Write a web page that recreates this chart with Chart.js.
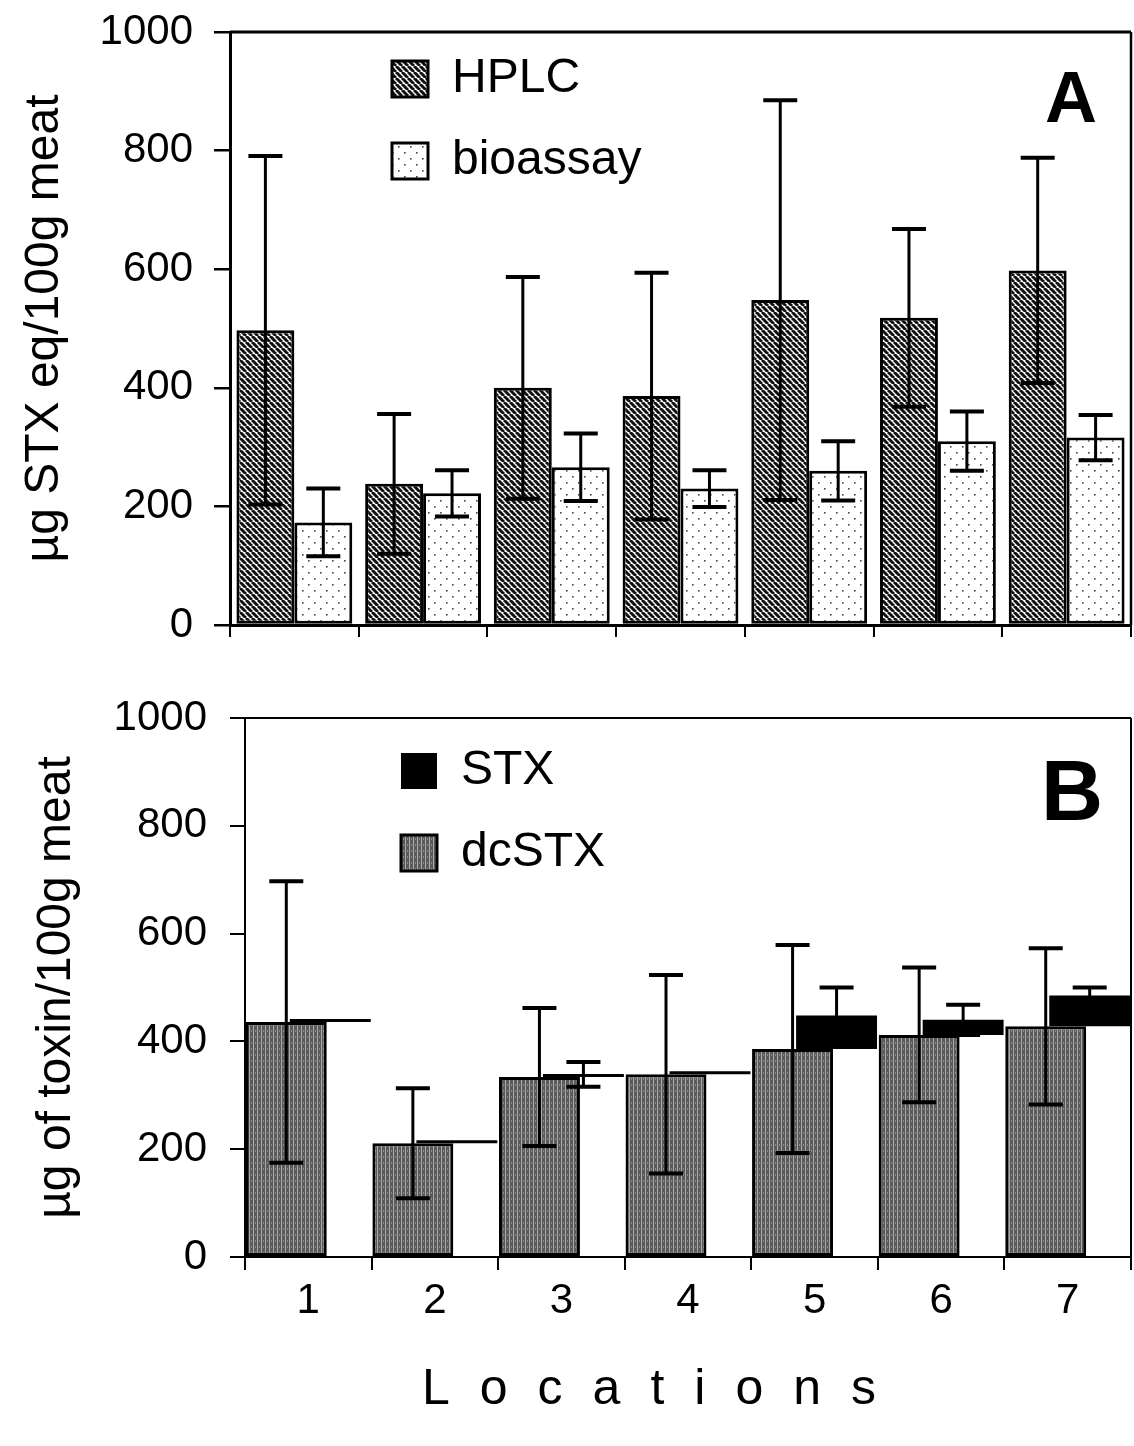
<!DOCTYPE html>
<html>
<head>
<meta charset="utf-8">
<script src="https://cdn.jsdelivr.net/npm/chart.js@4.4.1/dist/chart.umd.min.js"></script>
<style>
  html, body { margin: 0; padding: 0; background: #ffffff; }
  #wrap { position: relative; width: 1134px; height: 1446px; background: #fff; }
  #cA { position: absolute; left: 0; top: 0; }
  #cB { position: absolute; left: 0; top: 680px; }
</style>
</head>
<body>
<div id="wrap">
  <canvas id="cA" width="1134" height="660"></canvas>
  <canvas id="cB" width="1134" height="766"></canvas>
</div>
<script>
// ---------------- DATA ----------------
const locations = ['1', '2', '3', '4', '5', '6', '7'];

// Panel A
const hplc       = [497, 238, 400, 386, 548, 518, 598];
const hplcSD     = [294, 118, 187, 208, 337, 150, 190];
const bioassay   = [173, 222, 266, 230, 260, 310, 316];
const bioassaySD = [57, 39, 57, 31, 50, 50, 38];

// Panel B
const dcSTX   = [436, 211, 334, 339, 386, 412, 428];
const dcSTXSD = [261, 102, 128, 184, 193, 125, 145];
const stx     = [0, 0, 5, 0, 62, 28, 57];
const stxSD   = [0, 0, 23, 0, 52, 28, 15];

const yTickStep = 200;
const yMin = 0, yMax = 1000;

const labelsA = { hplc: 'HPLC', bio: 'bioassay', axis: 'µg STX eq/100g meat', panel: 'A' };
const labelsB = { stx: 'STX', dc: 'dcSTX', axis: 'µg of toxin/100g meat', panel: 'B', x: 'Locations' };

// ---------------- STYLE HELPERS ----------------
const FONT = "'Liberation Sans', Arial, Helvetica, sans-serif";

function makePattern(ctx, w, h, draw) {
  const c = document.createElement('canvas');
  c.width = w; c.height = h;
  const g = c.getContext('2d');
  draw(g, w, h);
  return ctx.createPattern(c, 'repeat');
}

const ctxA = document.getElementById('cA').getContext('2d');
const ctxB = document.getElementById('cB').getContext('2d');

const hatchA = makePattern(ctxA, 6, 6, (g, w, h) => {
  g.fillStyle = '#ffffff'; g.fillRect(0, 0, w, h);
  g.strokeStyle = '#111111'; g.lineWidth = 3;
  g.beginPath();
  for (let k = -1; k <= 1; k++) { g.moveTo(k * w, 0); g.lineTo(k * w + w, h); }
  g.stroke();
});
const dotsA = makePattern(ctxA, 12, 12, (g, w, h) => {
  g.fillStyle = '#ffffff'; g.fillRect(0, 0, w, h);
  g.fillStyle = '#444444';
  g.fillRect(2, 2, 1.6, 1.6);
  g.fillRect(8, 8, 1.6, 1.6);
});
const grayB = makePattern(ctxB, 4, 6, (g, w, h) => {
  g.fillStyle = '#5a5a5a'; g.fillRect(0, 0, w, h);
  g.fillStyle = '#a9a9a9'; g.fillRect(1, 0, 1, h);
  g.fillStyle = '#8a8a8a'; g.fillRect(3, 2, 1, 2);
});

const plainNumber = (v) => String(v);

// ---------------- PLUGINS ----------------
const errorBars = {
  id: 'errorBars',
  afterDatasetsDraw(chart, args, o) {
    const ctx = chart.ctx, ys = chart.scales.y;
    chart.data.datasets.forEach((ds, di) => {
      if (!ds.errors) return;
      const meta = chart.getDatasetMeta(di);
      if (meta.hidden) return;
      meta.data.forEach((bar, i) => {
        const e = ds.errors[i];
        if (!e) return;
        const raw = ds.data[i];
        const c = Array.isArray(raw) ? raw[1] : raw;
        const yHi = ys.getPixelForValue(c + e), yLo = ys.getPixelForValue(c - e);
        const half = o.capLength / 2;
        ctx.save();
        ctx.strokeStyle = '#000';
        ctx.lineWidth = o.lineWidth;
        ctx.beginPath(); ctx.moveTo(bar.x, yHi); ctx.lineTo(bar.x, yLo); ctx.stroke();
        ctx.lineWidth = o.capWidth;
        ctx.beginPath();
        ctx.moveTo(bar.x - half, yHi); ctx.lineTo(bar.x + half, yHi);
        ctx.moveTo(bar.x - half, yLo); ctx.lineTo(bar.x + half, yLo);
        ctx.stroke();
        ctx.restore();
      });
    });
  }
};

const frame = {
  id: 'frame',
  afterDraw(chart, args, o) {
    const ca = chart.chartArea, ctx = chart.ctx;
    ctx.save();
    ctx.strokeStyle = '#000';
    ctx.lineWidth = o.top;
    ctx.beginPath(); ctx.moveTo(ca.left, ca.top); ctx.lineTo(ca.right, ca.top); ctx.stroke();
    ctx.lineWidth = o.right;
    ctx.beginPath(); ctx.moveTo(ca.right, ca.top); ctx.lineTo(ca.right, ca.bottom); ctx.stroke();
    ctx.restore();
  }
};

const panelLabel = {
  id: 'panelLabel',
  afterDraw(chart, args, o) {
    const ca = chart.chartArea, ctx = chart.ctx;
    ctx.save();
    ctx.font = 'bold ' + o.size + 'px ' + FONT;
    ctx.fillStyle = '#000';
    ctx.textAlign = 'right';
    ctx.textBaseline = 'alphabetic';
    ctx.fillText(o.text, ca.right - o.dx, ca.top + o.dy);
    ctx.restore();
  }
};

const legendPlace = {
  id: 'legendPlace',
  afterLayout(chart, args, o) {
    const L = chart.legend;
    if (!L) return;
    const ca = chart.chartArea;
    const pad = L.options.labels.padding;
    const w = L.width, h = L.height;
    L.left = ca.left + o.boxX - pad;
    L.top = ca.top + o.boxY - pad - o.boxShift;
    L.right = L.left + w;
    L.bottom = L.top + h;
  }
};

const spacedTitle = {
  id: 'spacedTitle',
  beforeDraw(chart, args, o) {
    const s = chart.scales.x;
    if (!s || s.__spaced) return;
    const orig = s.drawTitle;
    s.drawTitle = function () {
      const c = this.ctx;
      c.save();
      try { c.letterSpacing = o.spacing + 'px'; } catch (e) {}
      c.translate(o.dx, 0);
      orig.call(this);
      c.restore();
    };
    s.__spaced = true;
  }
};

function fixY(width) {
  return function (s) { s.width = width; s.paddingTop = 0; s.paddingBottom = 0; };
}
function fixX(height) {
  return function (s) { s.height = height; s.paddingLeft = 0; s.paddingRight = 0; };
}

Chart.defaults.font.family = FONT;
Chart.defaults.color = '#000';

// ---------------- PANEL A ----------------
new Chart(ctxA, {
  type: 'bar',
  data: {
    labels: locations,
    datasets: [
      { label: labelsA.hplc, data: hplc, errors: hplcSD, backgroundColor: hatchA,
        borderColor: '#000', borderWidth: 3, borderSkipped: false,
        categoryPercentage: 0.9, barPercentage: 1.0 },
      { label: labelsA.bio, data: bioassay, errors: bioassaySD, backgroundColor: dotsA,
        borderColor: '#000', borderWidth: 3, borderSkipped: false,
        categoryPercentage: 0.9, barPercentage: 1.0 }
    ]
  },
  options: {
    responsive: false, animation: false, devicePixelRatio: 1,
    layout: { padding: { top: 32, right: 3, left: 0, bottom: 0 } },
    scales: {
      x: {
        type: 'category',
        grid: { display: true, drawOnChartArea: false, drawTicks: true, tickLength: 12, offset: true, color: '#000', lineWidth: 2 },
        border: { display: true, color: '#000', width: 3 },
        ticks: { display: false },
        afterFit: fixX(35)
      },
      y: {
        min: yMin, max: yMax,
        ticks: { stepSize: yTickStep, color: '#000', font: { size: 42 }, padding: 21, callback: plainNumber },
        grid: { drawOnChartArea: false, drawTicks: true, tickLength: 16, color: '#000', lineWidth: 2.5 },
        border: { display: true, color: '#000', width: 3 },
        title: { display: true, text: labelsA.axis, color: '#000', font: { size: 48 }, padding: { top: 16, bottom: 0 } },
        afterFit: fixY(230)
      }
    },
    plugins: {
      legend: {
        position: 'chartArea', align: 'start',
        labels: { font: { size: 48 }, color: '#000', boxWidth: 36, boxHeight: 36, padding: 34 }
      },
      tooltip: { enabled: false },
      errorBars: { capLength: 34, lineWidth: 3, capWidth: 4 },
      frame: { top: 3, right: 2.5 },
      panelLabel: { text: labelsA.panel, size: 72, dx: 34, dy: 90 },
      legendPlace: { boxX: 162, boxY: 29, boxShift: 6 }
    }
  },
  plugins: [errorBars, frame, panelLabel, legendPlace]
});

// ---------------- PANEL B ----------------
new Chart(ctxB, {
  type: 'bar',
  data: {
    labels: locations,
    datasets: [
      { label: labelsB.dc, data: dcSTX, errors: dcSTXSD, backgroundColor: grayB,
        borderColor: '#000', borderWidth: 3, borderSkipped: false,
        categoryPercentage: 0.695, barPercentage: 1.84 },
      { label: labelsB.stx, data: dcSTX.map((d, i) => [d, d + stx[i]]), errors: stxSD,
        backgroundColor: '#000', borderColor: '#000', borderWidth: 0, minBarLength: 3,
        categoryPercentage: 0.695, barPercentage: 1.84 }
    ]
  },
  options: {
    responsive: false, animation: false, devicePixelRatio: 1,
    layout: { padding: { top: 38, right: 3, left: 0, bottom: 0 } },
    scales: {
      x: {
        type: 'category',
        grid: { display: true, drawOnChartArea: false, drawTicks: true, tickLength: 13, offset: true, color: '#000', lineWidth: 2 },
        border: { display: true, color: '#000', width: 2 },
        ticks: { color: '#000', font: { size: 42 }, padding: 6 },
        title: { display: true, text: labelsB.x, color: '#000', font: { size: 50 }, padding: { top: 0, bottom: 26 } },
        afterFit: fixX(189)
      },
      y: {
        min: yMin, max: yMax,
        ticks: { stepSize: yTickStep, color: '#000', font: { size: 42 }, padding: 23, callback: plainNumber },
        grid: { drawOnChartArea: false, drawTicks: true, tickLength: 15, color: '#000', lineWidth: 2 },
        border: { display: true, color: '#000', width: 2 },
        title: { display: true, text: labelsB.axis, color: '#000', font: { size: 48 }, padding: { top: 28, bottom: 0 } },
        afterFit: fixY(245)
      }
    },
    plugins: {
      legend: {
        position: 'chartArea', align: 'start', reverse: true,
        labels: { font: { size: 48 }, color: '#000', boxWidth: 36, boxHeight: 36, padding: 34 }
      },
      tooltip: { enabled: false },
      errorBars: { capLength: 34, lineWidth: 3, capWidth: 4 },
      frame: { top: 2, right: 2 },
      panelLabel: { text: labelsB.panel, size: 86, dx: 28, dy: 102 },
      legendPlace: { boxX: 156, boxY: 35, boxShift: 6 },
      spacedTitle: { spacing: 30, dx: -24 }
    }
  },
  plugins: [errorBars, frame, panelLabel, legendPlace, spacedTitle]
});
</script>
</body>
</html>
